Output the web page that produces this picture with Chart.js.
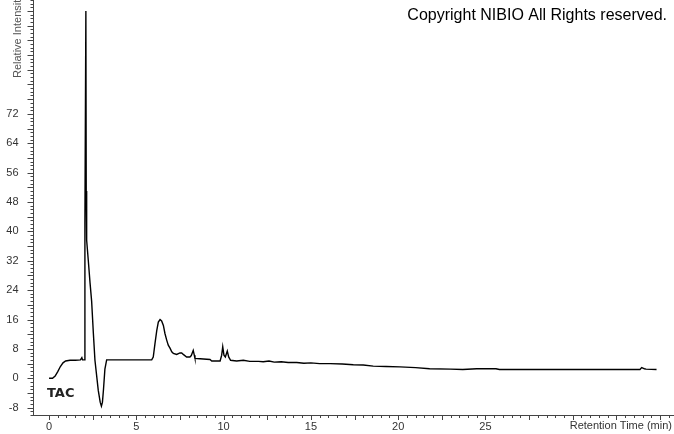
<!DOCTYPE html>
<html>
<head>
<meta charset="utf-8">
<script src="https://cdn.jsdelivr.net/npm/chart.js@4"></script>
<style>
  body { margin: 0; background: #fff; }
  canvas { display: block; }
</style>
</head>
<body>
<canvas id="tac-chart" width="674" height="434"></canvas>
<script>
// retention time (min) and relative intensity
const retentionTimes = [
    0.0, 0.2, 0.35, 0.5, 0.65, 0.8, 0.95, 1.2, 1.5, 1.8, 1.88, 1.92, 2.03,
    2.05, 2.06, 2.11, 2.13, 2.15, 2.16, 2.25, 2.35, 2.44, 2.54, 2.63, 2.82, 2.93, 3.0, 3.06, 3.12, 3.2, 3.3,
    3.6, 4.5, 5.5, 5.88, 5.97, 6.07, 6.17, 6.26, 6.36, 6.45, 6.55, 6.64, 6.74, 6.83, 6.93, 7.03, 7.12,
    7.31, 7.5, 7.6, 7.69, 7.88, 8.07, 8.15, 8.26, 8.32, 8.36, 8.65, 9.22, 9.32, 9.8, 9.89, 9.95,
    10.02, 10.1, 10.21, 10.29, 10.4, 10.75, 11.13, 11.5, 12.0, 12.27, 12.6, 12.9, 13.3, 13.7, 14.19,
    14.6, 15.0, 15.5, 16.1, 16.8, 17.43, 18.0, 18.57, 19.3, 20.1, 21.0, 21.8, 23.0, 23.7, 24.5,
    25.6, 25.8, 29.46, 33.85, 33.95, 34.05, 34.1, 34.2, 34.8
];
const intensities = [
    0.0, 0.0, 0.6, 1.8, 3.2, 4.2, 4.7, 4.9, 4.9, 5.0, 5.6, 5.0, 5.0,
    5.0, 42, 100, 51, 45, 37.6, 32, 25.9, 21, 12.2, 4.9, -3.3, -6.5, -7.6, -6.5, -3, 2.5, 5,
    5.0, 5.0, 5.0, 5.0, 5.8, 9.5, 13, 15.3, 16, 15.6, 14.4, 12.2, 10.4, 9, 8.2, 7.2, 6.8,
    6.5, 6.9, 6.9, 6.5, 5.8, 5.8, 6.2, 7.6, 6.3, 5.4, 5.3, 5.1, 4.7, 4.7, 6.3, 8.6,
    6.3, 5.8, 7.4, 5.8, 4.9, 4.7, 4.9, 4.6, 4.6, 4.5, 4.7, 4.4, 4.5, 4.3, 4.3,
    4.1, 4.2, 4.0, 4.0, 3.9, 3.7, 3.6, 3.3, 3.2, 3.1, 2.9, 2.6, 2.5, 2.4, 2.6,
    2.6, 2.4, 2.4, 2.4, 2.9, 2.7, 2.6, 2.5, 2.4
];

const xTicks = [0, 5, 10, 15, 20, 25, 30, 35];
const xLabelled = [0, 5, 10, 15, 20, 25];
const yTicks = [-8, 0, 8, 16, 24, 32, 40, 48, 56, 64, 72];
const xRange = [-0.89, 35.8];
const yRange = [-10, 103];

const titleText = 'Copyright NIBIO All Rights reserved.';
const yTitle = 'Relative Intensity';
const xTitle = 'Retention Time (min)';
const traceName = 'TAC';

const axisColor = '#444';
const labelFont = { family: 'Liberation Sans, Arial, sans-serif', size: 11 };

// minor tick marks and the loose texts around the plot
const decorations = {
    id: 'decorations',
    afterDraw(chart) {
        const ctx = chart.ctx;
        const xs = chart.scales.x;
        const ys = chart.scales.y;
        ctx.save();
        ctx.strokeStyle = axisColor;
        ctx.lineWidth = 1;
        ctx.beginPath();
        for (let v = Math.ceil(yRange[0]); v <= yRange[1]; v++) {
            const py = Math.round(ys.getPixelForValue(v)) + 0.5;
            const len = v % 4 === 0 ? 6 : 3;
            ctx.moveTo(xs.left - len, py);
            ctx.lineTo(xs.left, py);
        }
        for (let i = 0; i <= 72; i++) {
            const t = i * 0.5;
            if (t > xRange[1]) break;
            const px = Math.round(xs.getPixelForValue(t)) + 0.5;
            const len = i % 5 === 0 ? 5 : 3;
            ctx.moveTo(px, ys.bottom);
            ctx.lineTo(px, ys.bottom + len);
        }
        ctx.stroke();

        ctx.fillStyle = '#000';
        ctx.font = '16px Liberation Sans, Arial, sans-serif';
        ctx.textAlign = 'right';
        ctx.textBaseline = 'alphabetic';
        ctx.fillText(titleText, 667, 20);

        ctx.fillStyle = '#333';
        ctx.font = '11px Liberation Sans, Arial, sans-serif';
        ctx.textBaseline = 'middle';
        ctx.fillText(xTitle, 672, 426);

        ctx.fillStyle = '#555';
        ctx.translate(18, 78);
        ctx.rotate(-Math.PI / 2);
        ctx.textAlign = 'left';
        ctx.fillText(yTitle, 0, 0);
        ctx.restore();

        ctx.save();
        ctx.fillStyle = '#222';
        ctx.font = 'bold 13px DejaVu Sans, sans-serif';
        ctx.textAlign = 'left';
        ctx.textBaseline = 'middle';
        ctx.fillText(traceName, 47, 394);
        ctx.restore();
    }
};

new Chart(document.getElementById('tac-chart').getContext('2d'), {
    type: 'line',
    data: {
        datasets: [{
            label: traceName,
            data: retentionTimes.map((t, i) => ({ x: t, y: intensities[i] })),
            borderColor: '#000',
            borderWidth: 1.4,
            pointRadius: 0,
            tension: 0,
            fill: false
        }]
    },
    options: {
        responsive: false,
        animation: false,
        layout: { padding: 0 },
        plugins: {
            legend: { display: false },
            tooltip: { enabled: false }
        },
        scales: {
            x: {
                type: 'linear',
                min: xRange[0],
                max: xRange[1],
                afterFit: s => {
                    s.height = 19;
                    s.paddingLeft = 0;
                    s.paddingRight = 0;
                },
                afterBuildTicks: s => { s.ticks = xTicks.map(v => ({ value: v })); },
                grid: { display: false, drawTicks: false },
                border: { display: true, color: axisColor, width: 1 },
                ticks: {
                    autoSkip: false,
                    maxRotation: 0,
                    padding: 5,
                    color: '#333',
                    font: labelFont,
                    callback: v => xLabelled.includes(v) ? String(v) : ''
                }
            },
            y: {
                min: yRange[0],
                max: yRange[1],
                afterFit: s => {
                    s.width = 33.5;
                    s.paddingTop = 0;
                    s.paddingBottom = 0;
                },
                afterBuildTicks: s => { s.ticks = yTicks.map(v => ({ value: v })); },
                grid: { display: false, drawTicks: false },
                border: { display: true, color: axisColor, width: 1 },
                ticks: {
                    autoSkip: false,
                    padding: 15,
                    color: '#333',
                    font: labelFont,
                    callback: v => String(v)
                }
            }
        }
    },
    plugins: [decorations]
});
</script>
</body>
</html>
